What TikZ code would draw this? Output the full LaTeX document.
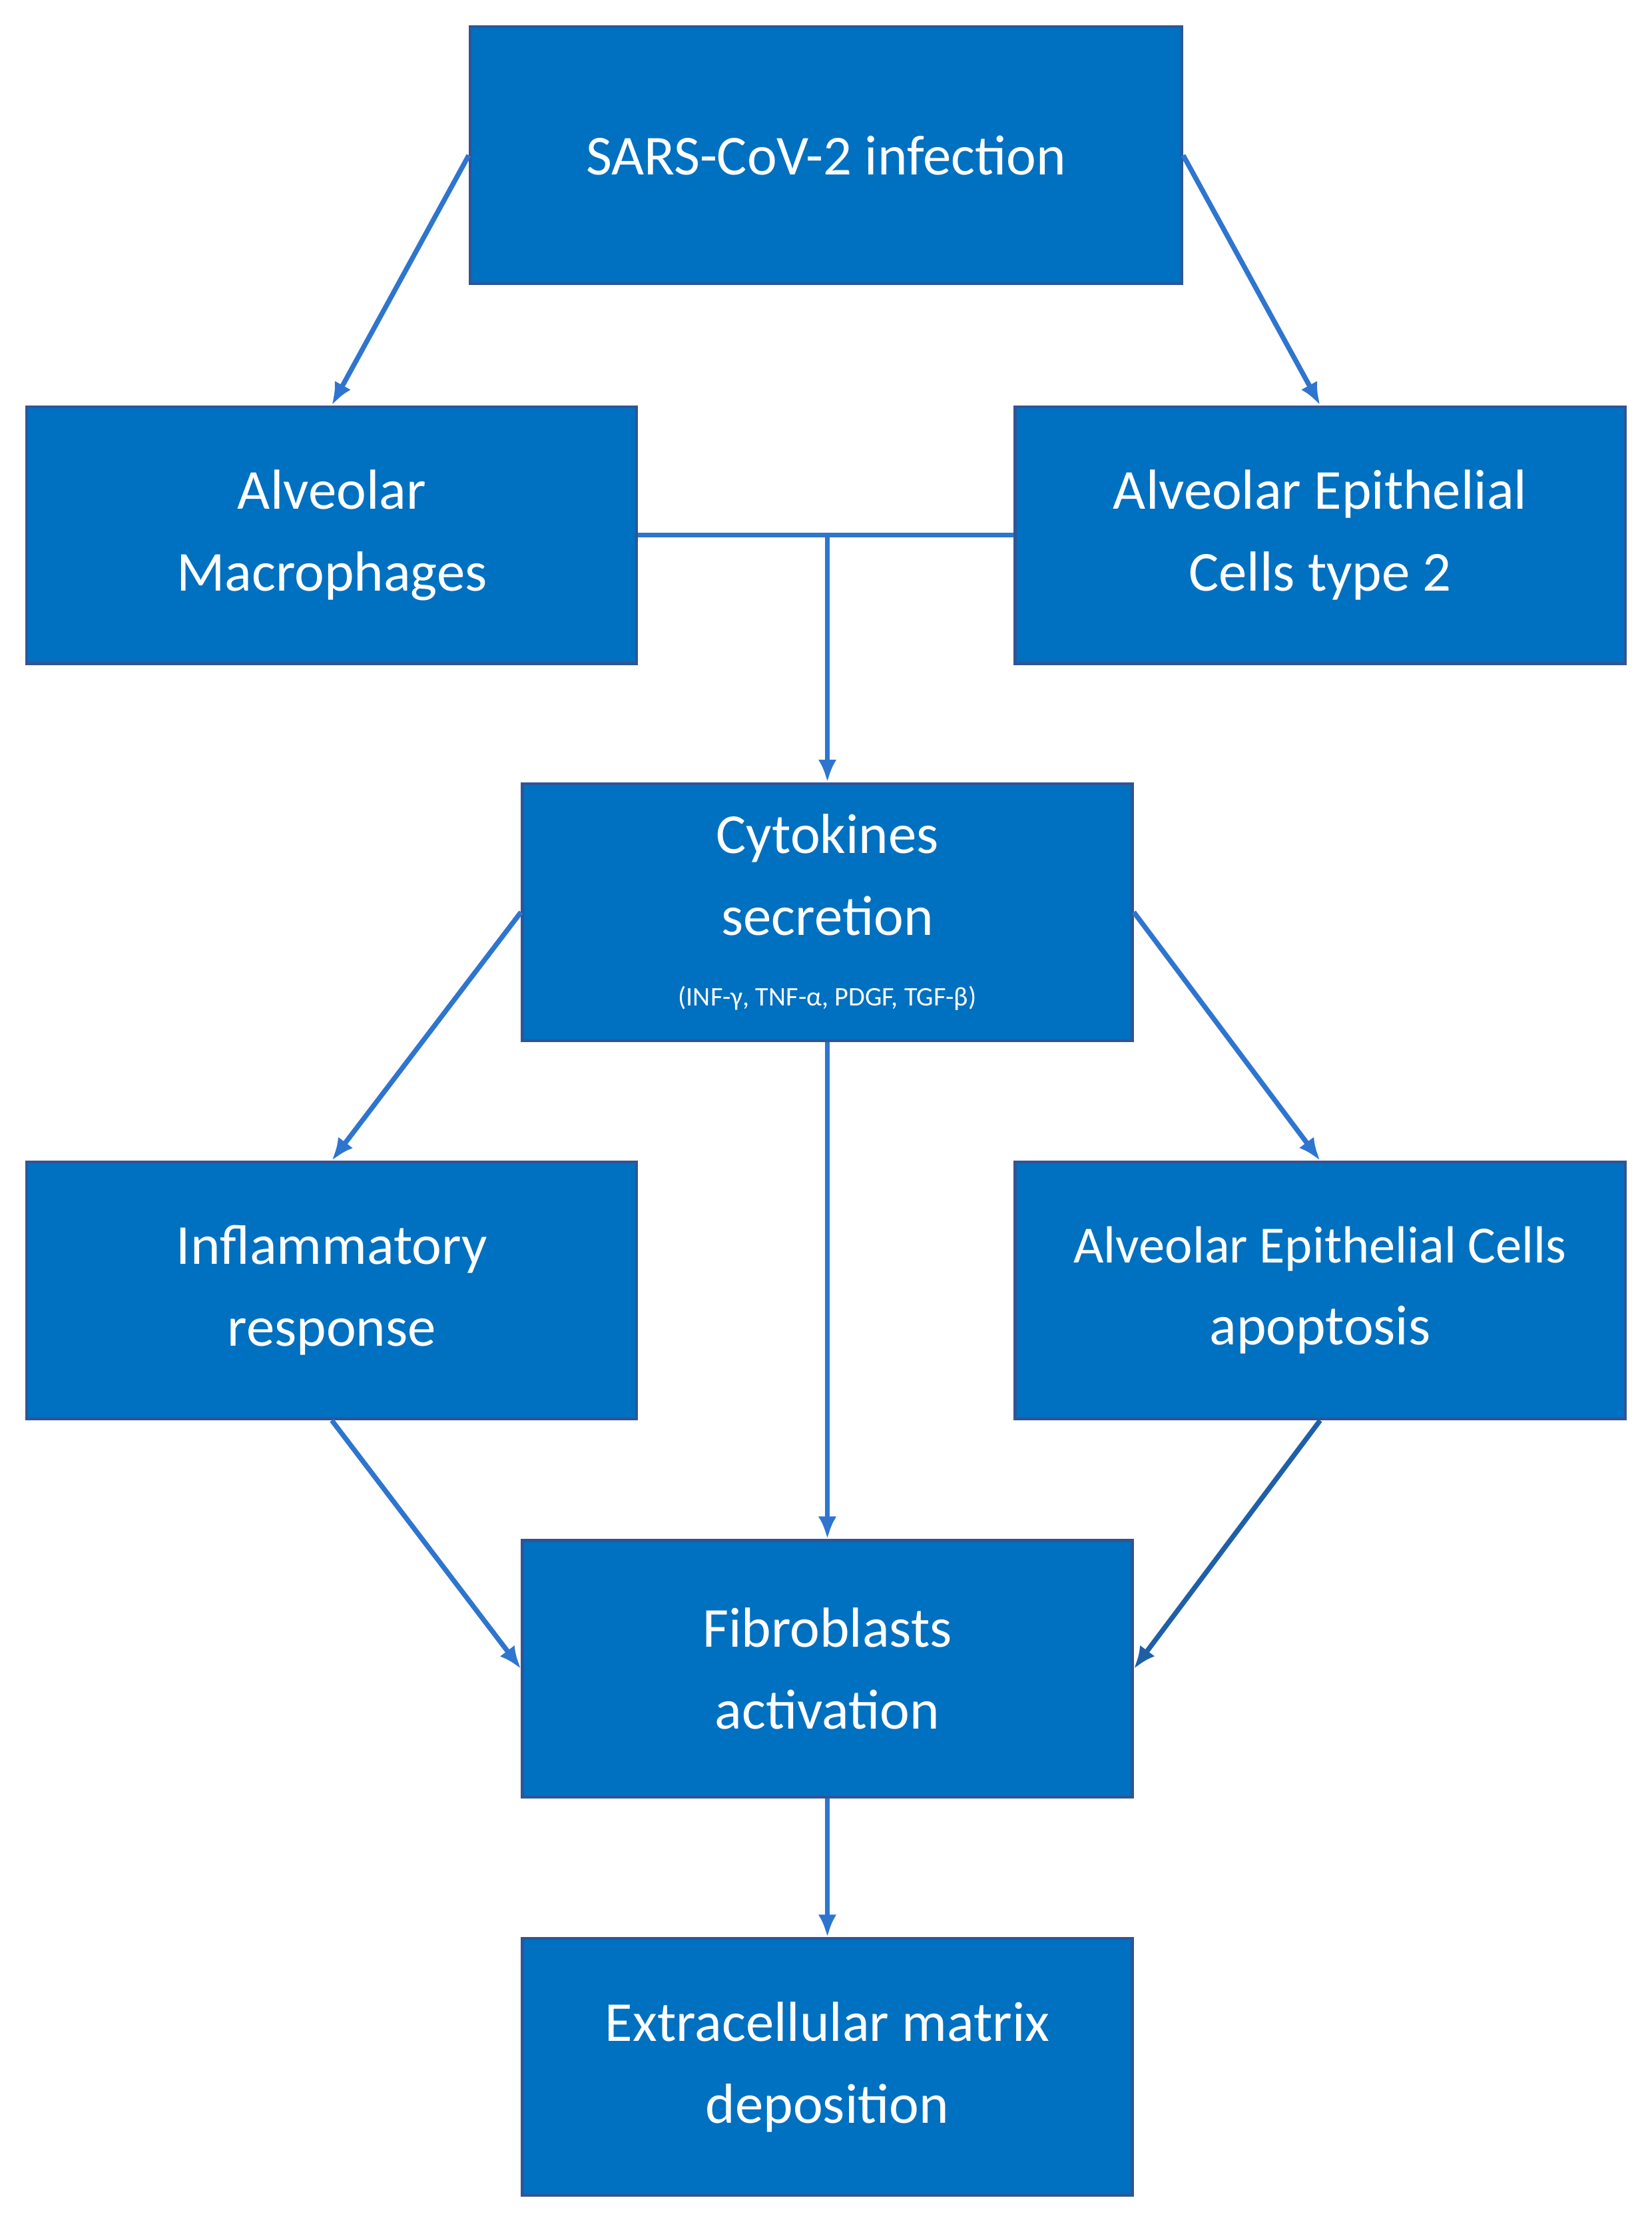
\documentclass[tikz,border=0pt]{standalone}
\usepackage{fontspec}
\setmainfont{Carlito}
\usetikzlibrary{arrows.meta}
\definecolor{boxfill}{HTML}{0070C0}
\definecolor{boxdraw}{HTML}{2F5597}
\definecolor{arr}{HTML}{2E75CF}
\definecolor{arrd}{HTML}{1F5FA8}
\begin{document}
\begin{tikzpicture}[x=1pt,y=-1pt,
  box/.style={draw=boxdraw,line width=2pt,fill=boxfill,text=white,align=center,
    font=\fontsize{40}{58}\selectfont,minimum width=432pt,minimum height=182pt,inner sep=0pt,anchor=north west},
  con/.style={draw=arr,line width=3.5pt,-{Latex[length=16pt,width=13pt]}}]
\useasboundingbox (0,0) rectangle (1170,1578);
\node[box,minimum width=504pt] (top) at (332,18) {SARS-CoV-2 infection};
\node[box] (am) at (18,287) {Alveolar\\Macrophages};
\node[box] (aec) at (718,287) {Alveolar Epithelial\\Cells type 2};
\node[box] (cyt) at (369,554) {Cytokines\\secretion\\[-8pt]{\fontsize{19}{22}\selectfont (INF-γ, TNF-α, PDGF, TGF-β)}};
\node[box] (inf) at (18,822) {Inflammatory\\response};
\node[box] (apo) at (718,822) {\fontsize{37}{52}\selectfont Alveolar Epithelial Cells\\apoptosis};
\node[box] (fib) at (369,1090) {Fibroblasts\\activation};
\node[box] (ecm) at (369,1372) {Extracellular matrix\\deposition};
\coordinate (j) at (cyt.north |- am.east);
\draw[con] (top.west) -- (am.north);
\draw[con] (top.east) -- (aec.north);
\draw[draw=arr,line width=3.5pt] (am.east) -- (aec.west);
\draw[con] (j) -- (cyt.north);
\draw[con] (cyt.west) -- (inf.north);
\draw[con] (cyt.east) -- (apo.north);
\draw[con] (cyt.south) -- (fib.north);
\draw[con] (inf.south) -- (fib.west);
\draw[con,draw=arrd] (apo.south) -- (fib.east);
\draw[con] (fib.south) -- (ecm.north);
\end{tikzpicture}
\end{document}
